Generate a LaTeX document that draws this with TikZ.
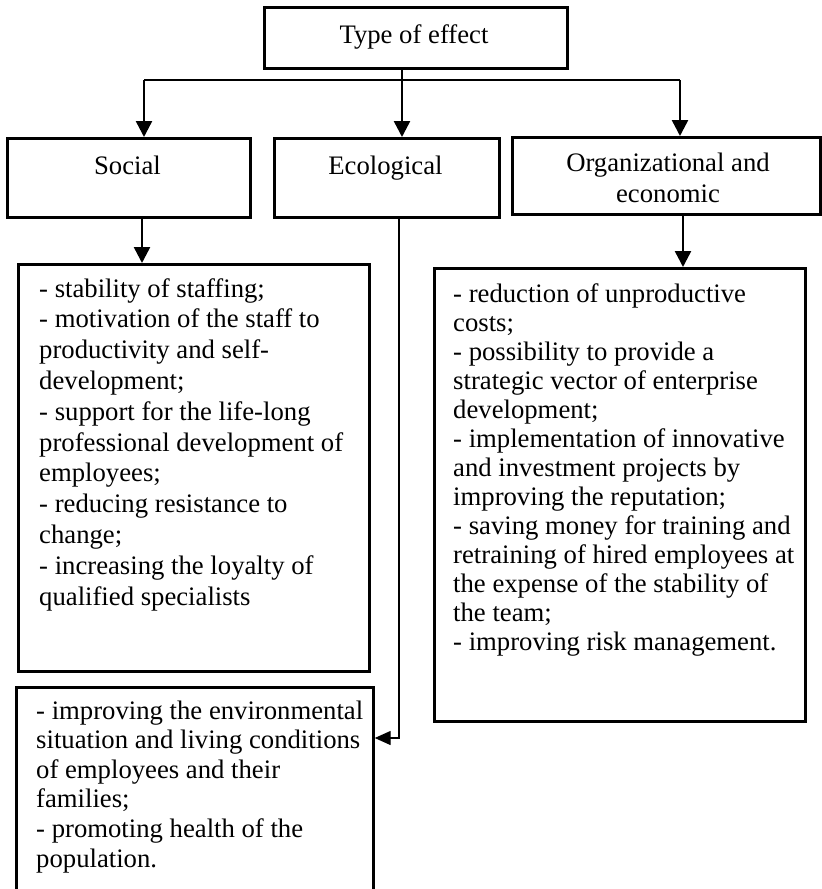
\documentclass[tikz,border=0pt]{standalone}
\usepackage{fontspec}
\setmainfont{Liberation Serif}
\usetikzlibrary{arrows.meta}

% A block of lines with a given line distance;
% the reference point is the baseline of the first line.
\newcommand{\linesleft}[2]{{\fontsize{26.7}{#1}\selectfont\begin{tabular}[t]{@{}l@{}}#2\end{tabular}}}
\newcommand{\linescenter}[2]{{\fontsize{26.7}{#1}\selectfont\begin{tabular}[t]{@{}c@{}}#2\end{tabular}}}

\begin{document}
\begin{tikzpicture}[x=1pt,y=-1pt,
  box/.style={draw, line width=2.7pt, inner sep=0pt, anchor=north west},
  label/.style={inner sep=0pt, anchor=base, font=\fontsize{26.7}{30}\selectfont},
  listtext/.style={inner sep=0pt, anchor=base west},
  arr/.style={line width=2.5pt, -{Triangle[length=16pt,width=16pt]}},
  bus/.style={line width=1.6pt},
  thinarr/.style={line width=1.4pt, -{Triangle[length=16pt,width=14pt]}}]

\useasboundingbox (0,0) rectangle (822,889);

% header boxes
\node[box, minimum width=303pt, minimum height=61pt] (top) at (263,6) {};
\node[box, minimum width=243pt, minimum height=79pt] (soc) at (6,137) {};
\node[box, minimum width=225pt, minimum height=79pt] (eco) at (273,137) {};
\node[box, minimum width=308pt, minimum height=77pt] (org) at (511,136) {};

\node[label] (ttop) at (414,43) {Type of effect};
\node[label] (tsoc) at (127.5,174) {Social};
\node[label] (teco) at (385.5,174) {Ecological};
\node[inner sep=0pt, anchor=base] (torg) at (668,171) {\linescenter{31}{Organizational and\\economic}};

% list boxes
\node[box, minimum width=351pt, minimum height=407pt] (lsoc) at (17,263) {};
\node[box, minimum width=371pt, minimum height=453pt] (lorg) at (433,267) {};
\node[box, minimum width=357pt, minimum height=215pt] (leco) at (15,686) {};

\node[listtext] (tlsoc) at (39,297) {\linesleft{30.8}{%
- stability of staffing;\\
- motivation of the staff to\\
productivity and self-\\
development;\\
- support for the life-long\\
professional development of\\
employees;\\
- reducing resistance to\\
change;\\
- increasing the loyalty of\\
qualified specialists}};

\node[listtext] (tlorg) at (453,302) {\linesleft{29}{%
- reduction of unproductive\\
costs;\\
- possibility to provide a\\
strategic vector of enterprise\\
development;\\
- implementation of innovative\\
and investment projects by\\
improving the reputation;\\
- saving money for training and\\
retraining of hired employees at\\
the expense of the stability of\\
the team;\\
- improving risk management.}};

\node[listtext] (tleco) at (36,719) {\linesleft{29.6}{%
- improving the environmental\\
situation and living conditions\\
of employees and their\\
families;\\
- promoting health of the\\
population.}};

% connectors
\coordinate (bl) at (144,80);
\coordinate (bm) at (402,80);
\coordinate (br) at (680,80);
\coordinate (sj) at (142,240);
\coordinate (oj) at (683,240);
\coordinate (ej) at (399,738);

\draw[bus] (bl) -- (br);
\draw[arr] (top.south -| bm) -- (eco.north -| bm);
\draw[arr] (bl) -- (soc.north -| bl);
\draw[arr] (br) -- (org.north -| br);
\draw[arr] (soc.south -| sj) -- (lsoc.north -| sj);
\draw[arr] (org.south -| oj) -- (lorg.north -| oj);
\draw[thinarr] (eco.south -| ej) -- (ej) -- (leco.east |- ej);

\end{tikzpicture}
\end{document}
